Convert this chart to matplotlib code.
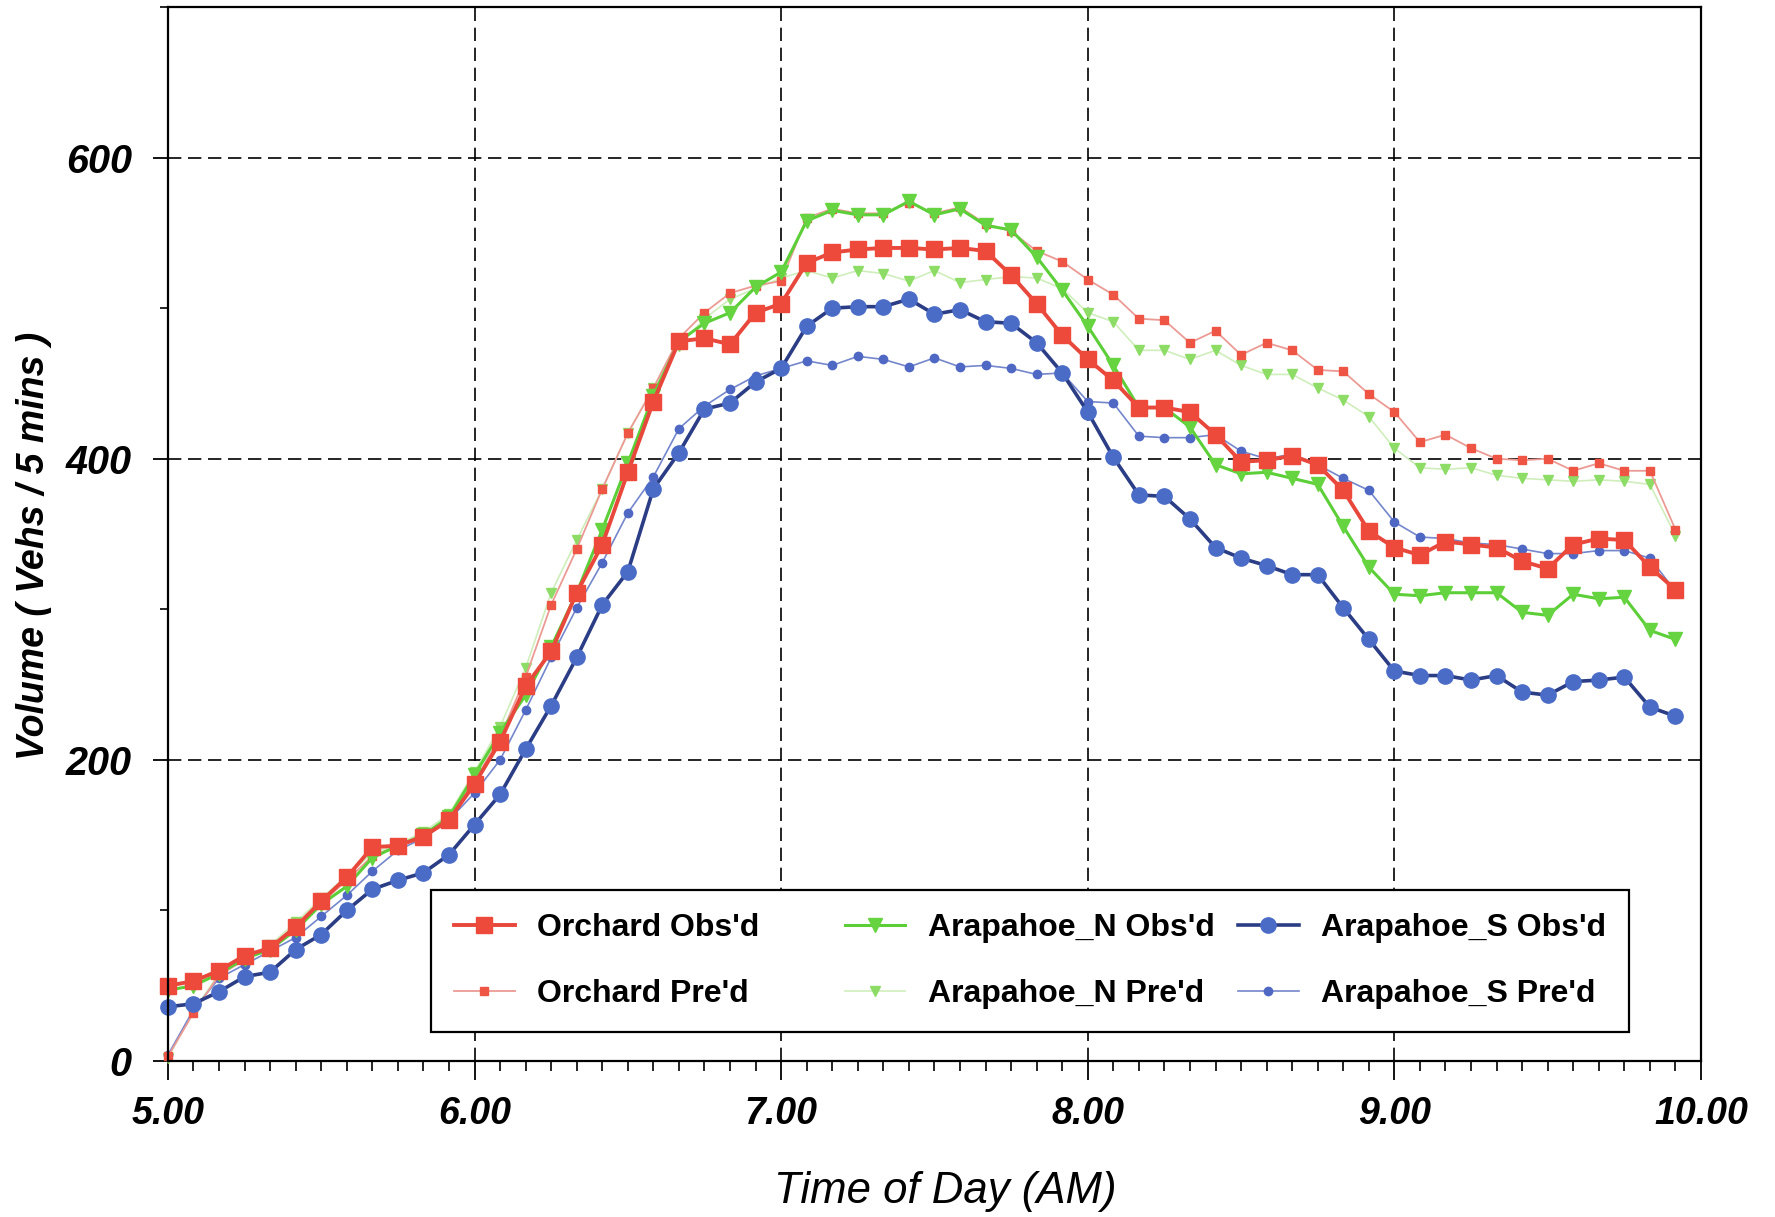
import numpy as np
import matplotlib.pyplot as plt
from matplotlib.ticker import MultipleLocator

plt.rcParams['font.family'] = ['Liberation Sans', 'DejaVu Sans']

# 5 minute counts from 5:00 AM to 9:55 AM
hours = 5 + np.arange(60) / 12.0

orchard_obs = [50, 53, 60, 70, 75, 89, 106, 122, 142, 143, 149, 160, 184,
               212, 249, 272, 311, 343, 391, 438, 478, 480, 476, 497, 503,
               530, 537, 539, 540, 540, 539, 540, 538, 522, 503, 482, 466,
               452, 434, 434, 431, 416, 398, 399, 402, 396, 379, 352, 341,
               336, 345, 343, 341, 332, 327, 343, 347, 346, 328, 313]
orchard_pred = [3, 32, 57, 67, 76, 90, 105, 120, 136, 143, 150, 162, 186,
                215, 255, 303, 340, 380, 417, 447, 480, 497, 510, 515, 518,
                560, 566, 563, 563, 570, 563, 567, 556, 551, 538, 531, 519,
                509, 493, 492, 477, 485, 469, 477, 472, 459, 458, 443, 431,
                411, 416, 407, 400, 399, 400, 392, 397, 392, 392, 353]
arapn_obs = [47, 50, 58, 68, 74, 87, 104, 116, 135, 143, 150, 162, 190,
             218, 243, 275, 311, 353, 397, 442, 478, 490, 497, 514, 524,
             558, 565, 562, 562, 571, 562, 566, 555, 552, 534, 512, 488,
             462, 434, 434, 421, 396, 390, 391, 387, 383, 355, 328, 310,
             309, 311, 311, 311, 298, 296, 310, 307, 308, 286, 280]
arapn_pred = [2, 33, 58, 68, 77, 92, 108, 123, 138, 144, 152, 164, 192,
              222, 261, 311, 346, 380, 417, 447, 475, 493, 506, 513, 520,
              525, 520, 525, 523, 518, 525, 517, 519, 521, 520, 513, 497,
              491, 472, 472, 466, 472, 462, 456, 456, 447, 439, 428, 407,
              394, 393, 394, 389, 387, 386, 385, 386, 385, 383, 349]
araps_obs = [36, 38, 46, 56, 59, 74, 84, 100, 114, 120, 125, 137, 157,
             177, 207, 236, 268, 303, 325, 380, 404, 433, 437, 451, 460,
             488, 500, 501, 501, 506, 496, 499, 491, 490, 477, 457, 431,
             401, 376, 375, 360, 341, 334, 329, 323, 323, 301, 280, 259,
             256, 256, 253, 256, 245, 243, 252, 253, 255, 235, 229]
araps_pred = [4, 34, 55, 64, 73, 82, 96, 110, 126, 140, 148, 160, 178,
              200, 233, 268, 301, 331, 364, 388, 420, 435, 446, 455, 460,
              465, 462, 468, 466, 461, 467, 461, 462, 460, 456, 457, 438,
              437, 415, 414, 414, 416, 405, 400, 403, 396, 387, 379, 358,
              348, 347, 344, 343, 340, 337, 337, 339, 339, 334, 312]

x_ticks = [5, 6, 7, 8, 9, 10]
x_ticklabels = ['5.00', '6.00', '7.00', '8.00', '9.00', '10.00']
y_ticks = [0, 200, 400, 600]
y_ticklabels = ['0', '200', '400', '600']

fig = plt.figure(figsize=(17.75, 12.17), dpi=100)
ax = fig.add_axes([0.0946, 0.1282, 0.8637, 0.866])

# predicted series (thin)
l_np, = ax.plot(hours, arapn_pred, '-', color='#cfeebb', lw=1.2, marker='v',
                ms=6.5, mfc='#8ddc66', mec='#8ddc66', clip_on=False)
l_sp, = ax.plot(hours, araps_pred, '-', color='#7486cc', lw=1.2, marker='o',
                ms=6, mfc='#4f68c4', mec='#4f68c4', clip_on=False)
l_op, = ax.plot(hours, orchard_pred, '-', color='#ec9a94', lw=1.3, marker='s',
                ms=6, mfc='#ee5544', mec='#ee5544', clip_on=False)
# observed series (thick)
l_no, = ax.plot(hours, arapn_obs, '-', color='#5ccf38', lw=2.2, marker='v',
                ms=10, mfc='#66d440', mec='#66d440', clip_on=False)
l_so, = ax.plot(hours, araps_obs, '-', color='#2b3d85', lw=2.6, marker='o',
                ms=11, mfc='#4a6cc6', mec='#4a6cc6', clip_on=False)
l_oo, = ax.plot(hours, orchard_obs, '-', color='#e8483c', lw=2.8, marker='s',
                ms=11, mfc='#ee4a3c', mec='#ee4a3c', clip_on=False)

ax.set_xlim(5, 10)
ax.set_ylim(0, 700)
ax.set_xticks(x_ticks)
ax.set_xticklabels(x_ticklabels, fontsize=27, fontweight='bold', fontstyle='italic')
ax.set_yticks(y_ticks)
ax.set_yticklabels(y_ticklabels, fontsize=28.5, fontweight='bold', fontstyle='italic')
ax.xaxis.set_minor_locator(MultipleLocator(1 / 12.0))
ax.yaxis.set_minor_locator(MultipleLocator(100))
ax.tick_params(axis='x', which='major', direction='out', length=14, width=1.3, pad=11)
ax.tick_params(axis='x', which='minor', direction='out', length=7, width=1.2)
ax.tick_params(axis='y', which='major', direction='out', length=11, width=1.3, pad=15)
ax.tick_params(axis='y', which='minor', direction='out', length=6, width=1.2)
ax.grid(True, which='major', color='black', linestyle=(0, (8, 4)), linewidth=1.2)
for s in ax.spines.values():
    s.set_linewidth(1.6)

fig.text(945 / 1775, 1 - 1191 / 1217, 'Time of Day (AM)', ha='center', va='center',
         fontsize=31.5, fontstyle='italic')
fig.text(34 / 1775, 1 - 546 / 1217, 'Volume ( Vehs / 5 mins )', ha='center', va='center',
         rotation=90, fontsize=27, fontweight='bold', fontstyle='italic')

handles = [l_oo, l_op, l_no, l_np, l_so, l_sp]
# trailing spaces keep the first legend column as wide as the others
labels = ["Orchard Obs'd" + " " * 7, "Orchard Pre'd" + " " * 7,
          "Arapahoe_N Obs'd", "Arapahoe_N Pre'd",
          "Arapahoe_S Obs'd", "Arapahoe_S Pre'd"]
leg = ax.legend(handles, labels, ncol=3, loc='lower left',
                bbox_to_anchor=(0.1716, 0.0275),
                fancybox=False, edgecolor='black', framealpha=1,
                prop=dict(weight='bold', size=23), handlelength=1.9,
                handletextpad=0.7, labelspacing=1.13, borderpad=0.72,
                borderaxespad=0, columnspacing=0.73)
leg.get_frame().set_linewidth(1.6)

fig.savefig('out.png', dpi=100)
